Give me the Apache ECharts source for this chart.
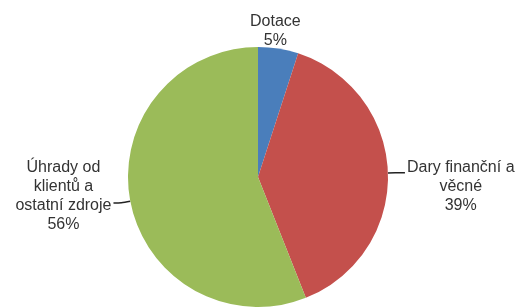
<!DOCTYPE html>
<html>
<head>
<meta charset="utf-8">
<script src="https://cdn.jsdelivr.net/npm/echarts@6/dist/echarts.min.js"></script>
<style>
html, body { margin:0; padding:0; background:#fff; }
#chart { width:526px; height:307px; }
</style>
</head>
<body>
<div id="chart"></div>
<script>
// zdroje financování
const names = ['Dotace', 'Dary finanční a\nvěcné', 'Úhrady od\nklientů a\nostatní zdroje'];
const values = [5, 39, 56];
const colors = ['#4a7ebb', '#c4504c', '#9bbb59'];

const fontFam = 'Liberation Sans, Arial, sans-serif';
let myChart = echarts.init(document.getElementById('chart'));

// posun textu vůči vodicí čáře
const labelPad = [
    [0, 0, 0, 0],
    [28, 0, 0, 0],
    [0, 0, 14, 0]
];

const seriesData = names.map((n, i) => ({
    name: n,
    value: values[i],
    itemStyle:{ color: colors[i] },
    label:{ padding: labelPad[i] },
    labelLine: i === 0 ? { show:false } : undefined
}));

let option = {
    animation:false,
    series:[{
        type:'pie',
        center:[258, 177],
        radius:130,
        startAngle:90,
        clockwise:true,
        data: seriesData,
        label:{
            show:true,
            position:'outside',
            overflow:'none',
            distanceToLabelLine:2,
            edgeDistance:0,
            fontFamily:fontFam,
            fontSize:16,
            lineHeight:19,
            color:'#333',
            formatter: p => p.name.split('\n').map(s => '{t|' + s + '}').join('\n') + '\n{t|' + p.percent.toFixed(0) + '%}',
            rich:{
                t:{ align:'center', fontSize:16, lineHeight:19, color:'#333', fontFamily:fontFam }
            }
        },
        labelLine:{
            show:true,
            length:9,
            length2:8,
            smooth:true,
            lineStyle:{ color:'#222', width:1.5 }
        },
        labelLayout: function (params) {
            // Dotace: nad okrajem výseče, vycentrovat
            if (params.dataIndex === 0 && params.labelLinePoints) {
                const p0 = params.labelLinePoints[0];
                return { x: p0[0] - 3, y: p0[1] + 1, align:'center', verticalAlign:'bottom' };
            }
            return {};
        },
        emphasis:{ disabled:true }
    }]
};
myChart.setOption(option);
</script>
</body>
</html>
